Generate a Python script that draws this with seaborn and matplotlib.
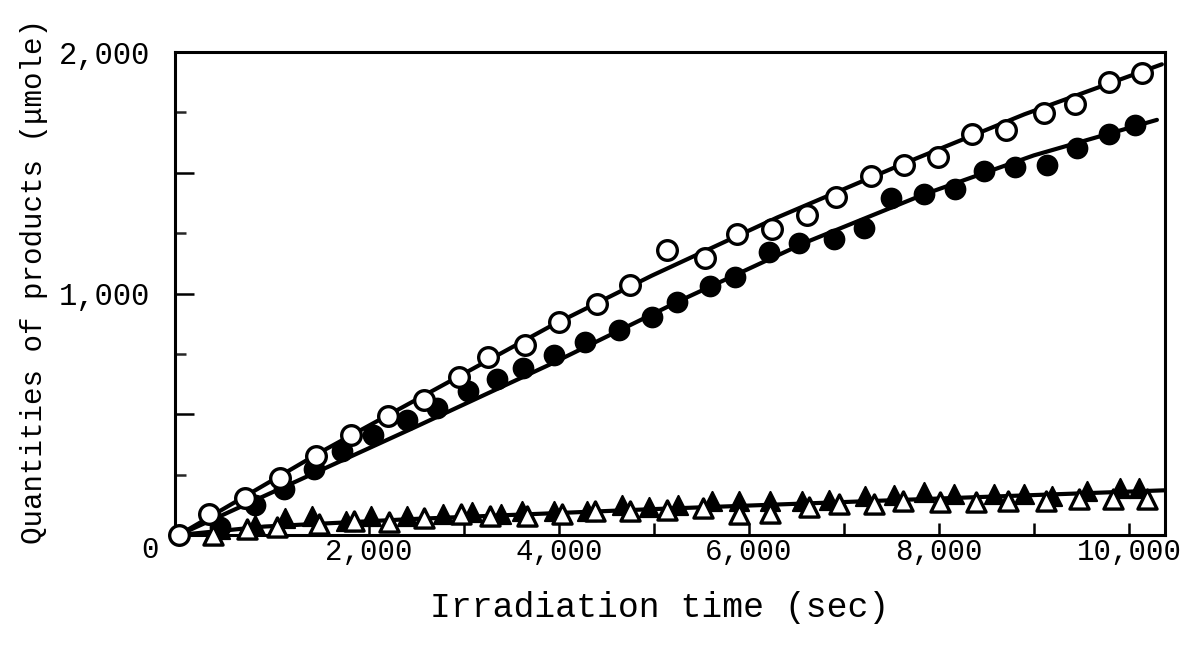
import matplotlib
matplotlib.use("Agg")
import matplotlib.pyplot as plt
import seaborn as sns
from matplotlib.ticker import FixedLocator

# ---- data ----
open_circle_t = [0, 323, 692, 1066, 1442, 1811, 2200, 2576, 2944, 3253, 3639, 3997, 4400, 4751,
                 5137, 5540, 5874, 6242, 6611, 6919, 7287, 7635, 7986, 8347, 8708, 9102, 9428,
                 9786, 10137]
open_circle_v = [0, 89, 152, 235, 326, 416, 494, 560, 653, 738, 785, 882, 958, 1034,
                 1181, 1145, 1248, 1269, 1324, 1401, 1486, 1531, 1565, 1660, 1675, 1749, 1783,
                 1874, 1914]

filled_circle_t = [432, 800, 1102, 1418, 1716, 2049, 2400, 2716, 3042, 3347, 3628, 3944, 4277,
                   4628, 4979, 5242, 5593, 5856, 6207, 6523, 6891, 7207, 7498, 7839, 8165, 8470,
                   8797, 9137, 9453, 9786, 10067]
filled_circle_v = [32, 123, 192, 272, 347, 416, 477, 525, 597, 646, 690, 745, 800,
                   848, 903, 964, 1033, 1070, 1170, 1211, 1225, 1273, 1396, 1414, 1431, 1506,
                   1523, 1534, 1602, 1660, 1698]

open_tri_t = [361, 719, 1035, 1474, 1845, 2214, 2576, 2972, 3277, 3663, 4032, 4382, 4751, 5137,
              5516, 5898, 6224, 6628, 6944, 7313, 7618, 8014, 8389, 8726, 9126, 9471, 9828, 10189]
open_tri_v = [0, 25, 32, 45, 59, 55, 69, 86, 79, 79, 89, 98, 98, 104,
              111, 86, 93, 114, 128, 130, 139, 135, 135, 141, 141, 151, 148, 151]

filled_tri_t = [432, 800, 1116, 1397, 1758, 2028, 2397, 2786, 3084, 3393, 3611, 3944, 4295, 4663,
                4944, 5253, 5611, 5898, 6224, 6558, 6839, 7224, 7523, 7839, 8155, 8576, 8892,
                9189, 9558, 9908, 10102]
filled_tri_v = [25, 41, 70, 79, 59, 79, 79, 89, 96, 86, 100, 100, 100, 123,
                114, 123, 139, 139, 139, 141, 145, 162, 166, 176, 169, 169, 169,
                162, 182, 196, 196]

# hand-drawn curves in the figure
open_line_t = [0, 1500, 2944, 3900, 4979, 6300, 7642, 8900, 10347]
open_line_v = [0, 345, 656, 862, 1074, 1315, 1540, 1742, 1949]
filled_line_t = [0, 2450, 3900, 5300, 6600, 7840, 9000, 10295]
filled_line_v = [0, 440, 705, 975, 1212, 1410, 1572, 1719]
tri_line_t = [0, 900, 2450, 4979, 7790, 10370]
tri_line_v = [0, 35, 66, 107, 148, 185]

x_tick_major = [2000, 4000, 6000, 8000, 10000]
x_tick_labels = ["2,000", "4,000", "6,000", "8,000", "10,000"]
x_tick_minor = [1000, 3000, 5000, 7000, 9000]
y_tick_major = [500, 1000, 1500, 2000]
y_tick_labels = ["", "1,000", "", "2,000"]
y_tick_minor = [250, 750, 1250, 1750]

sns.set_theme(style="ticks")
plt.rcParams["font.family"] = ["Liberation Mono", "DejaVu Sans"]

fig = plt.figure(figsize=(11.89, 6.49), dpi=100)
ax = fig.add_axes([175 / 1189, 1 - 535 / 649, (1165 - 175) / 1189, (535 - 52) / 649])

lw = 3.0
sns.lineplot(x=open_line_t, y=open_line_v, ax=ax, color="black", lw=lw, sort=False, estimator=None)
sns.lineplot(x=filled_line_t, y=filled_line_v, ax=ax, color="black", lw=lw, sort=False, estimator=None)
sns.lineplot(x=tri_line_t, y=tri_line_v, ax=ax, color="black", lw=lw, sort=False, estimator=None)

sns.scatterplot(x=filled_tri_t, y=filled_tri_v, ax=ax, marker="^", s=190, color="black",
                edgecolor="black", linewidth=1.5, zorder=4, clip_on=False)
sns.scatterplot(x=open_tri_t, y=open_tri_v, ax=ax, marker="^", s=190, color="white",
                edgecolor="black", linewidth=2.4, zorder=5, clip_on=False)
sns.scatterplot(x=filled_circle_t, y=filled_circle_v, ax=ax, marker="o", s=200, color="black",
                edgecolor="black", linewidth=1.5, zorder=4, clip_on=False)
sns.scatterplot(x=open_circle_t, y=open_circle_v, ax=ax, marker="o", s=200, color="white",
                edgecolor="black", linewidth=2.4, zorder=6, clip_on=False)

ax.set_xlim(-40, 10380)
ax.set_ylim(0, 2000)

ax.xaxis.set_major_locator(FixedLocator(x_tick_major))
ax.set_xticklabels(x_tick_labels)
ax.xaxis.set_minor_locator(FixedLocator(x_tick_minor))
ax.yaxis.set_major_locator(FixedLocator(y_tick_major))
ax.set_yticklabels(y_tick_labels)
ax.yaxis.set_minor_locator(FixedLocator(y_tick_minor))

ax.tick_params(axis="x", which="both", direction="in", length=9, width=1.8, pad=2,
               labelsize=21, colors="black")
ax.tick_params(axis="y", which="major", direction="in", length=14, width=1.8, pad=18,
               labelsize=22, colors="black")
ax.tick_params(axis="y", which="minor", direction="in", length=8, width=1.8)

for side in ["left", "right", "top", "bottom"]:
    ax.spines[side].set_visible(True)
    ax.spines[side].set_color("black")
    ax.spines[side].set_linewidth(2.2)

ax.text(-0.025, -0.031, "0", transform=ax.transAxes, ha="center", va="center",
        fontsize=21, color="black")

ax.set_xlabel("Irradiation time (sec)", fontsize=25, color="black")
ax.xaxis.set_label_coords(0.49, -0.115)
ax.set_ylabel("Quantities of products (\u03bcmole)", fontsize=21, color="black")
ax.yaxis.set_label_coords(-0.128, 0.524)

fig.savefig("out.png", dpi=100, facecolor="white")
